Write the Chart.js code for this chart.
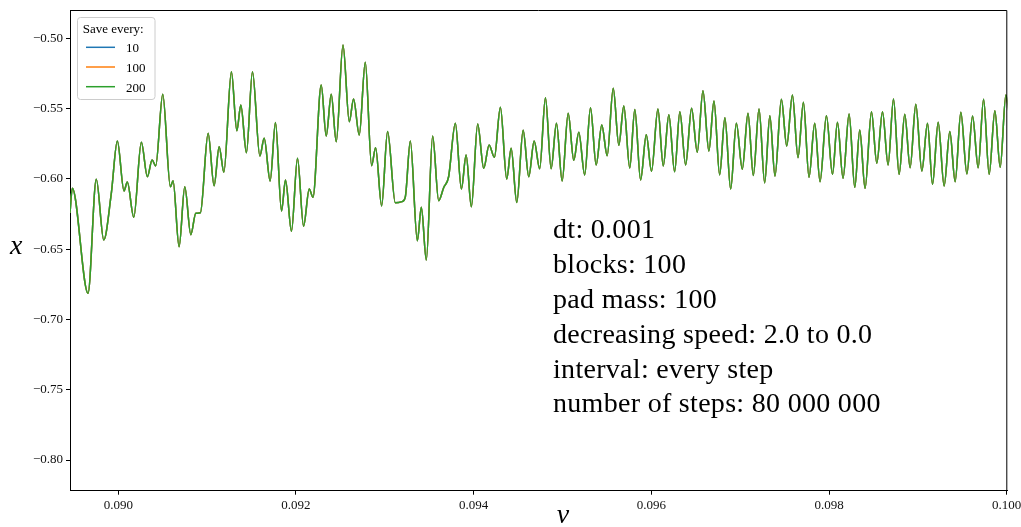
<!DOCTYPE HTML>
<html>

<head>
    <meta charset="UTF-8">
    <title>Position vs velocity</title>
    <script src="https://cdn.jsdelivr.net/npm/chart.js"></script>
    <style>
        body { margin: 0; background: #fff; }
        #wrap { position: relative; width: 1021px; height: 527px; }
    </style>
</head>

<body>
    <div id="wrap"><canvas id="myChart" width="1021" height="527"></canvas></div>
    <script>
        // v values (peaks and troughs)
        const vValues = [
            0.089456, 0.089482, 0.089659, 0.089752, 0.089836, 0.089921, 0.089989, 0.090064, 0.090101, 0.090174,
            0.090259, 0.090327, 0.090380, 0.090421, 0.090500, 0.090586, 0.090616, 0.090684, 0.090748, 0.090816,
            0.090872, 0.090924, 0.091011, 0.091078, 0.091135, 0.091188, 0.091273, 0.091334, 0.091379, 0.091442,
            0.091510, 0.091593, 0.091642, 0.091709, 0.091769, 0.091837, 0.091882, 0.091949, 0.092017, 0.092085,
            0.092149, 0.092191, 0.092284, 0.092340, 0.092397, 0.092453, 0.092529, 0.092600, 0.092648, 0.092712,
            0.092780, 0.092851, 0.092896, 0.092964, 0.093031, 0.093118, 0.093193, 0.093231, 0.093287, 0.093366,
            0.093411, 0.093467, 0.093538, 0.093606, 0.093662, 0.093718, 0.093794, 0.093862, 0.093915, 0.093974,
            0.094045, 0.094113, 0.094174, 0.094233, 0.094301, 0.094372, 0.094422, 0.094485, 0.094557, 0.094620,
            0.094681, 0.094743, 0.094808, 0.094872, 0.094932, 0.094996, 0.095064, 0.095127, 0.095183, 0.095250,
            0.095315, 0.095379, 0.095442, 0.095503, 0.095571, 0.095634, 0.095690, 0.095757, 0.095814, 0.095879,
            0.095943, 0.096002, 0.096074, 0.096134, 0.096197, 0.096262, 0.096321, 0.096386, 0.096453, 0.096517,
            0.096581, 0.096648, 0.096705, 0.096769, 0.096828, 0.096893, 0.096957, 0.097024, 0.097088, 0.097148,
            0.097212, 0.097276, 0.097334, 0.097392, 0.097464, 0.097524, 0.097588, 0.097651, 0.097712, 0.097775,
            0.097839, 0.097899, 0.097971, 0.098039, 0.098095, 0.098158, 0.098226, 0.098290, 0.098346, 0.098406,
            0.098478, 0.098538, 0.098602, 0.098665, 0.098726, 0.098789, 0.098853, 0.098913, 0.098977, 0.099045,
            0.099109, 0.099165, 0.099229, 0.099296, 0.099360, 0.099420, 0.099484, 0.099552, 0.099616, 0.099679,
            0.099740, 0.099803, 0.099867, 0.099927, 0.099991, 0.100025
        ];
        // x values, same for every save interval (the lines overlap)
        const xValues = [
            -0.6243, -0.6067, -0.6814, -0.6003, -0.6435, -0.6103, -0.5731, -0.6086, -0.6022, -0.6273,
            -0.5740, -0.5985, -0.5866, -0.5908, -0.5398, -0.6056, -0.6013, -0.6483, -0.6056, -0.6397,
            -0.6245, -0.6241, -0.5676, -0.6049, -0.5771, -0.5953, -0.5238, -0.5657, -0.5475, -0.5814,
            -0.5238, -0.5837, -0.5711, -0.6015, -0.5600, -0.6229, -0.6008, -0.6373, -0.5854, -0.6337,
            -0.6072, -0.6131, -0.5332, -0.5695, -0.5398, -0.5736, -0.5048, -0.5593, -0.5432, -0.5688,
            -0.5171, -0.5906, -0.5778, -0.6193, -0.5664, -0.6170, -0.6162, -0.6127, -0.5731, -0.6440,
            -0.6202, -0.6577, -0.5695, -0.6155, -0.6063, -0.5985, -0.5605, -0.6072, -0.5830, -0.6198,
            -0.5610, -0.5925, -0.5759, -0.5847, -0.5491, -0.6001, -0.5783, -0.6168, -0.5654, -0.5985,
            -0.5731, -0.5928, -0.5423, -0.5928, -0.5605, -0.6015, -0.5534, -0.5868, -0.5669, -0.5972,
            -0.5494, -0.5901, -0.5617, -0.5835, -0.5356, -0.5761, -0.5482, -0.5923, -0.5507, -0.6008,
            -0.5686, -0.5946, -0.5504, -0.5908, -0.5544, -0.5949, -0.5522, -0.5901, -0.5498, -0.5811,
            -0.5373, -0.5802, -0.5446, -0.5972, -0.5565, -0.6072, -0.5605, -0.5932, -0.5534, -0.5977,
            -0.5503, -0.6029, -0.5551, -0.5980, -0.5434, -0.5766, -0.5403, -0.5849, -0.5455, -0.5989,
            -0.5605, -0.6020, -0.5551, -0.5968, -0.5598, -0.5996, -0.5539, -0.6060, -0.5652, -0.6067,
            -0.5522, -0.5889, -0.5522, -0.5901, -0.5432, -0.5968, -0.5541, -0.5921, -0.5470, -0.5944,
            -0.5605, -0.6039, -0.5598, -0.6051, -0.5664, -0.6020, -0.5526, -0.5965, -0.5553, -0.5921,
            -0.5434, -0.5968, -0.5515, -0.5918, -0.5403, -0.5524
        ];
        const saveEvery = ['10', '100', '200'];
        const lineColors = ['#1f77b4', '#ff7f0e', '#2ca02c'];
        const vTicks = [0.090, 0.092, 0.094, 0.096, 0.098, 0.100];
        const xTicks = [-0.80, -0.75, -0.70, -0.65, -0.60, -0.55, -0.50];
        const notes = [
            'dt: 0.001',
            'blocks: 100',
            'pad mass: 100',
            'decreasing speed: 2.0 to 0.0',
            'interval: every step',
            'number of steps: 80 000 000'
        ];

        const SERIF = '"Liberation Serif", "Times New Roman", serif';
        const points = vValues.map((v, i) => ({ x: v, y: xValues[i] }));

        // top/right frame, legend box, axis symbols and the parameter text
        const extras = {
            id: 'extras',
            afterDraw(chart) {
                const c = chart.ctx, a = chart.chartArea;
                c.save();
                c.strokeStyle = '#000';
                c.lineWidth = 1;
                c.beginPath();
                c.moveTo(a.left, a.top + 0.5);
                c.lineTo(a.right - 0.5, a.top + 0.5);
                c.lineTo(a.right - 0.5, a.bottom);
                c.stroke();

                // legend
                const lx = 77.5, ly = 17.5, lw = 77.5, lh = 82;
                c.beginPath();
                c.roundRect(lx, ly, lw, lh, 3);
                c.fillStyle = 'rgba(255,255,255,0.8)';
                c.fill();
                c.strokeStyle = '#cccccc';
                c.stroke();
                c.fillStyle = '#000';
                c.font = '13px ' + SERIF;
                c.textBaseline = 'alphabetic';
                c.textAlign = 'left';
                c.fillText('Save every:', 82.7, 33.3);
                saveEvery.forEach((s, i) => {
                    const y = 47.3 + i * 19.7;
                    c.strokeStyle = lineColors[i];
                    c.lineWidth = 1.5;
                    c.beginPath();
                    c.moveTo(86, y);
                    c.lineTo(115, y);
                    c.stroke();
                    c.fillText(s, 126, y + 5);
                });

                // axis symbols
                c.font = 'italic 28px ' + SERIF;
                c.textAlign = 'center';
                c.textBaseline = 'middle';
                c.fillText('x', 16.3, 247);
                c.fillText('v', 563, 516);

                // parameters
                c.font = '28px ' + SERIF;
                c.letterSpacing = '0.3px';
                c.textAlign = 'left';
                c.textBaseline = 'alphabetic';
                notes.forEach((t, i) => c.fillText(t, 553, 238.3 + i * 34.8));
                c.restore();
            }
        };

        const ctx = document.getElementById('myChart').getContext('2d');
        const chart = new Chart(ctx, {
            type: 'line',
            data: {
                datasets: saveEvery.map((s, i) => ({
                    label: s,
                    data: points,
                    borderColor: lineColors[i],
                    borderWidth: 1.5,
                    pointRadius: 0,
                    fill: false,
                    cubicInterpolationMode: 'monotone',
                    order: 3 - i
                }))
            },
            options: {
                responsive: false,
                animation: false,
                events: [],
                layout: { padding: { left: 0, top: 10, right: 13.7, bottom: 0 } },
                plugins: { legend: { display: false }, tooltip: { enabled: false } },
                scales: {
                    x: {
                        type: 'linear',
                        min: 0.089456,
                        max: 0.100007,
                        afterBuildTicks: s => { s.ticks = vTicks.map(v => ({ value: v })); },
                        afterFit: s => { s.height = 36.3; s.paddingLeft = 0; s.paddingRight = 0; },
                        grid: { drawOnChartArea: false, drawTicks: true, tickLength: 4, color: '#000' },
                        border: { display: true, color: '#000', width: 1 },
                        ticks: {
                            padding: 3,
                            maxRotation: 0,
                            autoSkip: false,
                            color: '#111',
                            font: { family: SERIF, size: 13 },
                            callback: v => v.toFixed(3)
                        }
                    },
                    y: {
                        type: 'linear',
                        min: -0.8218,
                        max: -0.4799,
                        afterBuildTicks: s => { s.ticks = xTicks.map(v => ({ value: v })); },
                        afterFit: s => { s.width = 70; s.paddingTop = 0; s.paddingBottom = 0; },
                        grid: { drawOnChartArea: false, drawTicks: true, tickLength: 4, color: '#000' },
                        border: { display: true, color: '#000', width: 1 },
                        ticks: {
                            padding: 3,
                            autoSkip: false,
                            color: '#111',
                            font: { family: SERIF, size: 13 },
                            callback: v => '\u2212' + Math.abs(v).toFixed(2)
                        }
                    }
                }
            },
            plugins: [extras]
        });
    </script>
</body>

</html>
